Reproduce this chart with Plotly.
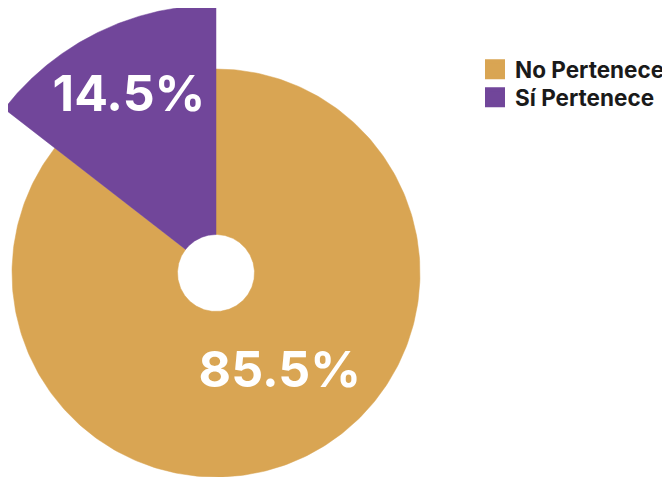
import numpy as np
import plotly.graph_objects as go

# ---- data ----
labels = ["No Pertenece", "Sí Pertenece"]
values = [85.5, 14.5]
text_labels = ["85.5%", "14.5%"]
colors = ["#D9A553", "#71469A"]

# ---- layout constants (pixels inside the plot area, y up) ----
W, H = 670, 477
CX, CY = 208, 212
R_OUTER = [204, 268]
R_HOLE = 38.5
R_TEXT = [116, 199.5]
TEXT_ANG_SHIFT = [-7.3, 0.25]
TEXT_DY = -5
LEGEND_TOPS = [40, 68]

fig = go.Figure()
total = sum(values)
start = 0.0
tx, ty = [], []
for i, (lab, val, col) in enumerate(zip(labels, values, colors)):
    span = 360.0 * val / total
    end = start + span
    th = np.radians(np.linspace(start, end, 300))
    ro = R_OUTER[i]
    xo = CX + ro * np.sin(th)
    yo = CY + ro * np.cos(th)
    xi = CX + R_HOLE * np.sin(th[::-1])
    yi = CY + R_HOLE * np.cos(th[::-1])
    xs = np.concatenate([xo, xi, xo[:1]])
    ys = np.concatenate([yo, yi, yo[:1]])
    fig.add_trace(go.Scatter(
        x=xs, y=ys, fill="toself", fillcolor=col, mode="lines",
        line=dict(color=col, width=0.5), hoverinfo="skip", showlegend=False))
    mid = np.radians(start + span / 2 + TEXT_ANG_SHIFT[i])
    tx.append(CX + R_TEXT[i] * np.sin(mid))
    ty.append(CY + R_TEXT[i] * np.cos(mid) + TEXT_DY)
    start = end

fig.add_trace(go.Scatter(
    x=tx, y=ty, mode="text", text=text_labels,
    textfont=dict(family="Inter", size=50, color="white", weight=700),
    hoverinfo="skip", showlegend=False))

legend_names = ["legend", "legend2"]
for lab, col, lg in zip(labels, colors, legend_names):
    fig.add_trace(go.Scatter(
        x=[None], y=[None], mode="markers", name=lab, legend=lg,
        marker=dict(symbol="square", size=16, color=col,
                    line=dict(color=col, width=4))))

leg_common = dict(x=467 / W, xanchor="left", yanchor="top",
                  font=dict(family="Inter", size=22.5, color="#1a1a1a", weight=700),
                  tracegroupgap=0, itemsizing="trace", bgcolor="rgba(0,0,0,0)")

fig.update_layout(
    width=W, height=H,
    margin=dict(l=0, r=0, t=0, b=0),
    paper_bgcolor="white", plot_bgcolor="white",
    xaxis=dict(range=[0, W], visible=False, fixedrange=True),
    yaxis=dict(range=[0, H], visible=False, fixedrange=True),
    legend=dict(y=1 - LEGEND_TOPS[0] / H, **leg_common),
    legend2=dict(y=1 - LEGEND_TOPS[1] / H, **leg_common),
    showlegend=True,
)

fig.write_html("out.html")
